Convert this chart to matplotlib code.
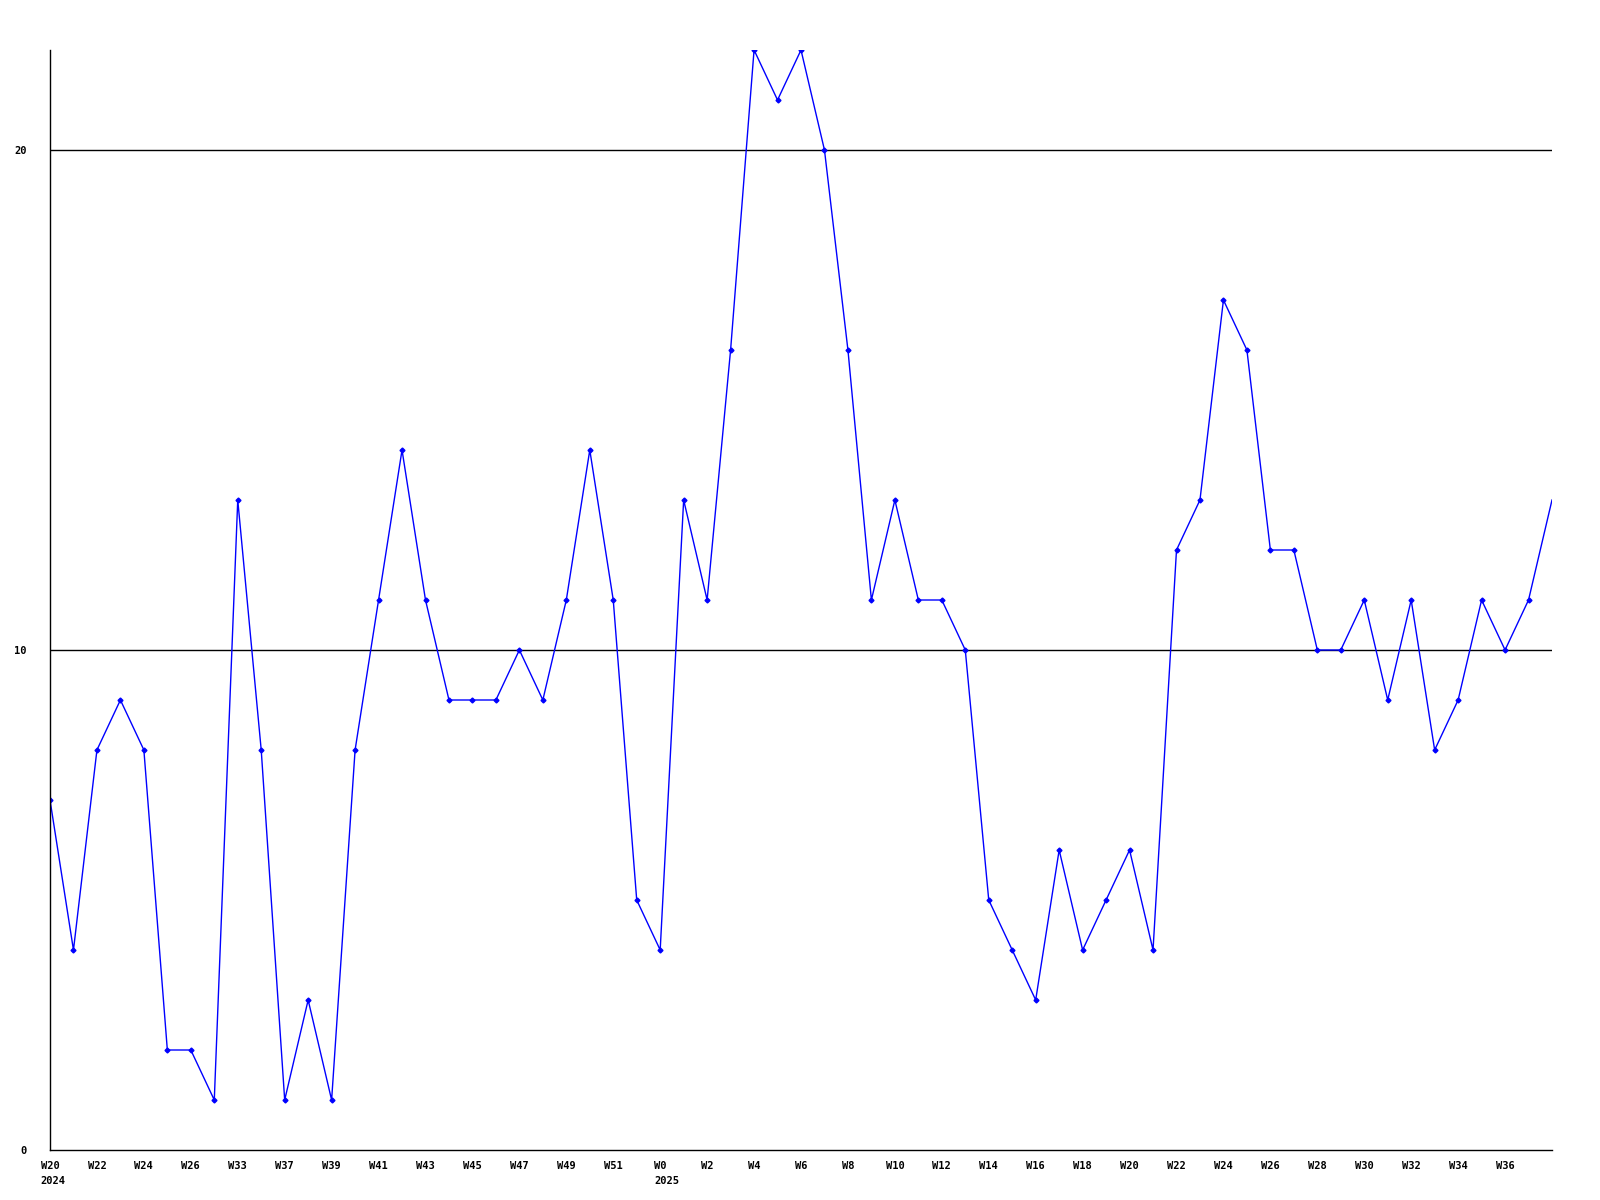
import matplotlib
matplotlib.use("Agg")
import matplotlib.pyplot as plt
from matplotlib.transforms import blended_transform_factory, offset_copy

values = [7, 4, 8, 9, 8, 2, 2, 1, 13, 8, 1, 3, 1, 8, 11, 14, 11, 9, 9, 9,
          10, 9, 11, 14, 11, 5, 4, 13, 11, 16, 22, 21, 22, 20, 16, 11, 13, 11, 11, 10,
          5, 4, 3, 6, 4, 5, 6, 4, 12, 13, 17, 16, 12, 12, 10, 10, 11, 9, 11, 8,
          9, 11, 10, 11, 13]
tick_labels = ["W20", "W22", "W24", "W26", "W33", "W37", "W39", "W41", "W43", "W45",
               "W47", "W49", "W51", "W0", "W2", "W4", "W6", "W8", "W10", "W12",
               "W14", "W16", "W18", "W20", "W22", "W24", "W26", "W28", "W30", "W32",
               "W34", "W36"]
year_labels = {0: "2024", 13: "2025"}
y_ticks = [0, 10, 20]

fig = plt.figure(figsize=(16, 12), dpi=100)
ax = fig.add_axes([50/1600, 1 - 1150/1200, (1552-50)/1600, 1100/1200])
x = list(range(len(values)))
ax.plot(x, values, color="#0000ff", linewidth=1)
ax.plot(x[:-1], values[:-1], linestyle="none", marker="D", markersize=2.5, color="#0000ff")
ax.set_xlim(0, len(values) - 1)
ax.set_ylim(0, 22)
for yv in y_ticks[1:]:
    ax.axhline(yv, color="black", linewidth=1, zorder=0)
for s in ["top", "right"]:
    ax.spines[s].set_visible(False)
ax.spines["left"].set_linewidth(1)
ax.spines["bottom"].set_linewidth(1)
ax.set_yticks(y_ticks)
ax.set_yticklabels([str(v) for v in y_ticks], fontfamily="DejaVu Sans Mono",
                   fontweight="bold", fontsize=7.5)
xt = list(range(0, len(tick_labels) * 2, 2))
ax.set_xticks(xt)
ax.set_xticklabels(tick_labels, fontfamily="DejaVu Sans Mono", fontweight="bold",
                   fontsize=7.5)
ax.tick_params(length=0, pad=8)
ax.tick_params(axis="y", pad=17)

trans = blended_transform_factory(ax.transData, ax.transAxes)
char_w = 6.3  # px per char approx
for idx, yr in year_labels.items():
    lab = tick_labels[idx]
    tr = offset_copy(trans, fig=fig, x=-len(lab) * char_w / 2, y=-26, units="dots")
    ax.text(xt[idx], 0, yr, transform=tr, ha="left", va="top",
            fontfamily="DejaVu Sans Mono", fontweight="bold", fontsize=7.5)
fig.savefig("out.png", dpi=100, facecolor="white")
